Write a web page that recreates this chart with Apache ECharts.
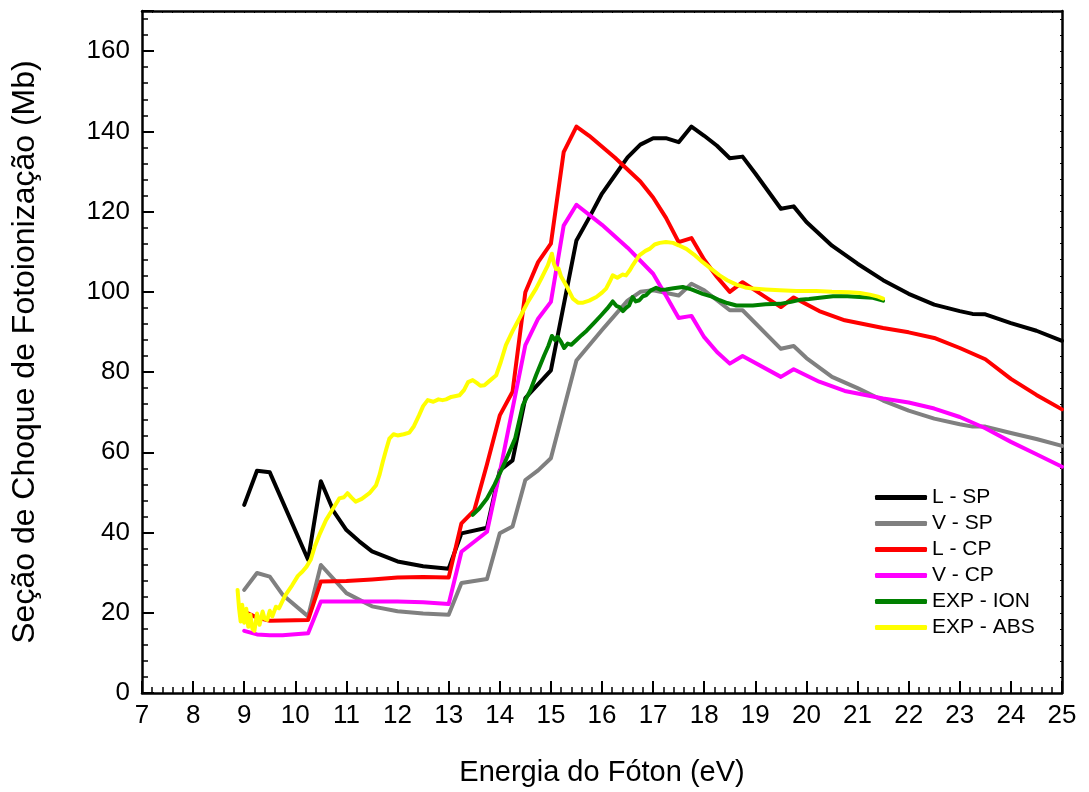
<!DOCTYPE html>
<html>
<head>
<meta charset="utf-8">
<title>Seção de Choque de Fotoionização</title>
<script src="https://cdn.jsdelivr.net/npm/echarts@6/dist/echarts.min.js"></script>
<style>
  html, body { margin: 0; padding: 0; background: #ffffff; }
  #chart { width: 1089px; height: 792px; }
</style>
</head>
<body>
<div id="chart"></div>
<script>
// Photoionization cross sections (Mb) versus photon energy (eV): [energy, sigma]
const seriesNames = ['L - SP', 'V - SP', 'L - CP', 'V - CP', 'EXP - ION', 'EXP - ABS'];
const seriesColors = ['#000000', '#808080', '#ff0000', '#ff00ff', '#008000', '#ffff00'];

const lengthSP = [
  [9.0, 46.9], [9.25, 55.4], [9.5, 55.0], [10.25, 33.2], [10.5, 52.8], [10.75, 45.3],
  [11.0, 40.6], [11.25, 37.8], [11.5, 35.3], [12.0, 32.8], [12.5, 31.6], [13.0, 31.0],
  [13.25, 39.8], [13.75, 41.2], [14.0, 55.5], [14.25, 58.0], [14.5, 73.5], [15.0, 80.4],
  [15.5, 112.8], [15.75, 118.5], [16.0, 124.5], [16.25, 129.0], [16.5, 133.5], [16.75, 136.7],
  [17.0, 138.3], [17.25, 138.3], [17.5, 137.3], [17.75, 141.2], [18.0, 138.9], [18.25, 136.4],
  [18.5, 133.3], [18.75, 133.7], [19.0, 129.5], [19.5, 120.7], [19.75, 121.3], [20.0, 117.4],
  [20.5, 111.5], [21.0, 107.0], [21.5, 102.9], [22.0, 99.5], [22.5, 96.8], [23.0, 95.2],
  [23.25, 94.5], [23.5, 94.4], [24.0, 92.2], [24.5, 90.3], [25.0, 87.8]
];

const velocitySP = [
  [9.0, 25.7], [9.25, 29.9], [9.5, 29.0], [9.75, 24.5], [10.25, 19.1], [10.5, 31.9],
  [11.0, 24.9], [11.5, 21.6], [12.0, 20.4], [12.5, 19.8], [13.0, 19.5], [13.25, 27.4],
  [13.75, 28.4], [14.0, 39.8], [14.25, 41.5], [14.5, 53.1], [14.75, 55.5], [15.0, 58.5],
  [15.5, 82.9], [16.0, 90.5], [16.5, 97.8], [16.75, 100.0], [17.0, 100.4], [17.5, 99.1],
  [17.75, 102.0], [18.0, 100.4], [18.5, 95.4], [18.75, 95.4], [19.5, 85.8], [19.75, 86.5],
  [20.0, 83.5], [20.5, 78.8], [21.0, 76.0], [21.5, 72.9], [22.0, 70.4], [22.5, 68.4],
  [23.0, 67.0], [23.25, 66.4], [23.5, 66.4], [24.0, 64.8], [24.5, 63.3], [25.0, 61.6]
];

const lengthCP = [
  [9.0, 20.3], [9.25, 18.8], [9.5, 18.0], [10.25, 18.2], [10.5, 27.8], [11.0, 27.9],
  [11.5, 28.3], [12.0, 28.8], [12.5, 28.9], [13.0, 28.8], [13.25, 42.3], [13.5, 45.5],
  [13.75, 57.0], [14.0, 69.2], [14.25, 75.1], [14.5, 99.9], [14.75, 107.4], [15.0, 112.0],
  [15.25, 134.8], [15.5, 141.2], [15.75, 138.9], [16.25, 133.5], [16.75, 127.5], [17.0, 123.5],
  [17.25, 118.5], [17.5, 112.4], [17.75, 113.4], [18.0, 108.0], [18.25, 103.7], [18.5, 100.0],
  [18.75, 102.4], [19.5, 96.2], [19.75, 98.6], [20.25, 95.2], [20.75, 92.9], [21.5, 91.0],
  [22.0, 89.9], [22.5, 88.5], [23.0, 86.0], [23.5, 83.2], [24.0, 78.3], [24.5, 74.3], [25.0, 70.7]
];

const velocityCP = [
  [9.0, 15.5], [9.25, 14.6], [9.5, 14.4], [9.75, 14.4], [10.25, 14.9], [10.5, 22.8],
  [11.0, 22.8], [12.0, 22.8], [12.5, 22.6], [13.0, 22.2], [13.25, 35.2], [13.75, 40.2],
  [14.0, 55.0], [14.5, 86.7], [14.75, 93.3], [15.0, 97.5], [15.25, 116.5], [15.5, 121.7],
  [16.0, 116.7], [16.5, 111.0], [17.0, 104.5], [17.25, 99.1], [17.5, 93.5], [17.75, 94.0],
  [18.0, 88.7], [18.25, 85.0], [18.5, 82.1], [18.75, 84.0], [19.5, 78.8], [19.75, 80.7],
  [20.25, 77.6], [20.75, 75.3], [21.5, 73.4], [22.0, 72.4], [22.5, 70.9], [23.0, 68.8],
  [23.5, 66.0], [24.0, 62.6], [24.5, 59.5], [25.0, 56.4]
];

const expIon = [
  [13.47, 44.4], [13.6, 46.0], [13.75, 48.5], [13.9, 52.0], [14.1, 57.5], [14.3, 63.4],
  [14.45, 71.7], [14.6, 75.5], [14.71, 79.2], [14.87, 84.2], [14.95, 86.5], [15.02, 89.0],
  [15.08, 88.0], [15.13, 88.8], [15.2, 87.5], [15.26, 86.0], [15.33, 87.1], [15.4, 86.8],
  [15.5, 88.0], [15.6, 89.2], [15.7, 90.3], [15.85, 92.3], [15.98, 94.1], [16.1, 95.8],
  [16.21, 97.6], [16.28, 96.5], [16.34, 96.2], [16.41, 95.2], [16.47, 96.0], [16.53, 96.6],
  [16.6, 98.7], [16.66, 97.6], [16.73, 97.9], [16.8, 98.9], [16.86, 99.1], [16.95, 100.3],
  [17.06, 101.0], [17.15, 100.5], [17.25, 100.6], [17.4, 100.9], [17.58, 101.2], [17.75, 100.6],
  [17.97, 99.5], [18.15, 98.8], [18.3, 97.9], [18.45, 97.2], [18.63, 96.6], [18.8, 96.6],
  [18.95, 96.6], [19.2, 96.9], [19.48, 97.0], [19.7, 97.5], [19.87, 98.0], [20.05, 98.2],
  [20.26, 98.5], [20.52, 98.9], [20.8, 98.9], [21.04, 98.7], [21.3, 98.5], [21.5, 97.8]
];

const expAbs = [
  [8.87, 25.7], [8.9, 21.0], [8.93, 17.8], [8.96, 22.0], [9.0, 17.5], [9.04, 21.0],
  [9.08, 16.5], [9.12, 19.5], [9.16, 16.0], [9.2, 15.5], [9.25, 19.8], [9.3, 17.0],
  [9.36, 20.3], [9.4, 18.5], [9.45, 18.2], [9.5, 20.5], [9.55, 19.1], [9.62, 21.5],
  [9.68, 21.1], [9.8, 24.3], [9.94, 26.9], [10.05, 29.2], [10.14, 30.3], [10.22, 31.5],
  [10.3, 33.2], [10.38, 36.5], [10.47, 39.4], [10.6, 43.1], [10.73, 45.8], [10.86, 48.5],
  [10.95, 48.8], [11.02, 49.8], [11.1, 48.7], [11.18, 47.7], [11.3, 48.4], [11.45, 49.8],
  [11.58, 51.8], [11.65, 54.5], [11.71, 57.6], [11.78, 60.8], [11.84, 63.4], [11.92, 64.5],
  [12.0, 64.2], [12.12, 64.5], [12.23, 64.9], [12.32, 66.5], [12.42, 69.2], [12.5, 71.5],
  [12.59, 73.0], [12.7, 72.6], [12.8, 73.2], [12.88, 73.0], [12.95, 73.2], [13.05, 73.8],
  [13.21, 74.2], [13.3, 75.5], [13.38, 77.5], [13.47, 78.0], [13.55, 77.3], [13.62, 76.6],
  [13.7, 76.7], [13.8, 77.8], [13.93, 79.2], [14.02, 82.5], [14.12, 86.7], [14.25, 90.2],
  [14.38, 93.3], [14.55, 97.5], [14.71, 100.8], [14.82, 103.5], [14.94, 106.6], [15.02, 109.5],
  [15.06, 107.0], [15.1, 105.7], [15.15, 105.8], [15.2, 103.8], [15.3, 101.6], [15.43, 98.3],
  [15.53, 97.3], [15.63, 97.3], [15.75, 97.8], [15.89, 98.7], [16.0, 99.8], [16.08, 100.8],
  [16.15, 102.5], [16.21, 104.1], [16.3, 103.5], [16.4, 104.3], [16.47, 104.1], [16.55, 105.5],
  [16.6, 106.6], [16.73, 109.1], [16.85, 110.2], [16.93, 110.7], [17.03, 111.8], [17.13, 112.2],
  [17.25, 112.4], [17.39, 112.2], [17.5, 111.6], [17.65, 110.7], [17.8, 109.3], [17.97, 107.4],
  [18.15, 105.6], [18.3, 104.1], [18.45, 102.9], [18.63, 101.8], [18.8, 101.1], [18.95, 100.8],
  [19.2, 100.6], [19.48, 100.4], [19.8, 100.2], [20.19, 100.2], [20.5, 100.0], [20.85, 99.9],
  [21.05, 99.7], [21.24, 99.3], [21.4, 98.8], [21.5, 98.3]
];

const seriesData = [lengthSP, velocitySP, lengthCP, velocityCP, expIon, expAbs];

const FONT = '"Liberation Sans", Arial, sans-serif';
const X_MIN = 7, X_MAX = 25, Y_MIN = 0, Y_MAX = 170;

const chart = echarts.init(document.getElementById('chart'), null, { renderer: 'canvas' });

const frameLine = { show: true, onZero: false, lineStyle: { color: '#000', width: 2.5 } };

chart.setOption({
  animation: false,
  backgroundColor: '#ffffff',
  grid: { left: 142, right: 27, top: 11, bottom: 97, containLabel: false },
  legend: {
    orient: 'vertical',
    left: 870,
    top: 482,
    itemWidth: 52,
    itemHeight: 5,
    itemGap: 5,
    icon: 'roundRect',
    data: seriesNames,
    textStyle: { fontFamily: FONT, fontSize: 21, color: '#000', lineHeight: 21 }
  },
  xAxis: [
    {
      type: 'value', position: 'bottom', min: X_MIN, max: X_MAX, interval: 1,
      axisLine: frameLine,
      axisTick: { show: true, inside: true, length: 12, lineStyle: { color: '#000', width: 2 } },
      minorTick: { show: true, splitNumber: 5, length: 6, lineStyle: { color: '#000', width: 1.5 } },
      splitLine: { show: false },
      axisLabel: { fontFamily: FONT, fontSize: 26, color: '#000', margin: 10 },
      name: 'Energia do Fóton (eV)',
      nameLocation: 'middle',
      nameGap: 65,
      nameTextStyle: { fontFamily: FONT, fontSize: 29, color: '#000' }
    },
    {
      type: 'value', position: 'top', min: X_MIN, max: X_MAX, interval: 1,
      axisLine: frameLine,
      axisTick: { show: true, inside: true, length: 2, lineStyle: { color: '#000', width: 1 } },
      minorTick: { show: true, splitNumber: 5, length: 2, lineStyle: { color: '#000', width: 1 } },
      splitLine: { show: false },
      axisLabel: { show: false }
    }
  ],
  yAxis: [
    {
      type: 'value', position: 'left', min: Y_MIN, max: Y_MAX, interval: 20,
      axisLine: frameLine,
      axisTick: { show: true, inside: true, length: 12, lineStyle: { color: '#000', width: 2 } },
      splitLine: { show: false },
      axisLabel: {
        fontFamily: FONT, fontSize: 26, color: '#000', margin: 12,
        formatter: v => (v % 20 === 0 ? String(v) : '')
      },
      name: 'Seção de Choque de Fotoionização (Mb)',
      nameLocation: 'middle',
      nameGap: 101,
      nameTextStyle: { fontFamily: FONT, fontSize: 32, color: '#000' }
    },
    {
      // minor ticks every 4 Mb along the left edge
      type: 'value', position: 'left', min: Y_MIN, max: Y_MAX, interval: 4,
      axisLine: { show: false },
      axisTick: { show: true, inside: true, length: 6, lineStyle: { color: '#000', width: 1.5 } },
      splitLine: { show: false },
      axisLabel: { show: false }
    },
    {
      type: 'value', position: 'right', min: Y_MIN, max: Y_MAX, interval: 4,
      axisLine: frameLine,
      axisTick: { show: true, inside: true, length: 2, lineStyle: { color: '#000', width: 1 } },
      splitLine: { show: false },
      axisLabel: { show: false }
    }
  ],
  series: seriesNames.map((name, i) => ({
    name: name,
    type: 'line',
    xAxisIndex: 0,
    yAxisIndex: 0,
    data: seriesData[i],
    showSymbol: false,
    symbol: 'none',
    smooth: false,
    color: seriesColors[i],
    lineStyle: { color: seriesColors[i], width: 4, cap: 'round', join: 'round' },
    emphasis: { disabled: true },
    z: 2 + i
  }))
});
</script>
</body>
</html>
